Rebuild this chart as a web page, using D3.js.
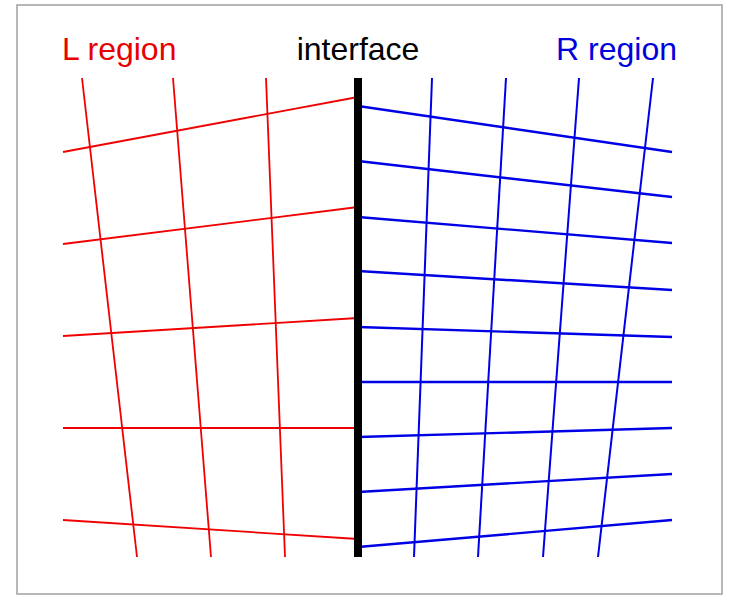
<!DOCTYPE html>
<html>
<head>
<meta charset="utf-8">
<script src="https://cdn.jsdelivr.net/npm/d3@7"></script>
<style>
  body { margin: 0; background: #fff; }
  svg { display: block; }
</style>
</head>
<body>
<svg id="chart"></svg>
<script>
// grid coordinates: x measured from the interface, y measured up from the bottom
var interfaceY = [0, 479];

// L region (red) - "vertical" lines: x at top and x at bottom
var leftVertTop = [-276, -185, -92];
var leftVertBottom = [-221, -147, -73];
// L region - "horizontal" lines: y at far left and y at the interface
var leftHorizLeft = [405, 313, 221, 129, 37];
var leftHorizRight = [460, 350, 239, 129, 18];
var leftEdgeX = -295;

// R region (blue)
var rightVertTop = [74, 148, 221, 295];
var rightVertBottom = [56, 120, 185, 240];
var rightHorizLeft = [451, 396, 340, 286, 230, 175, 120, 65, 10];
var rightHorizRight = [405, 360, 314, 267, 220, 175, 129, 83, 37];
var rightEdgeX = 314;

var labels = ["L region", "interface", "R region"];

var W = 734, H = 607;
var svg = d3.select("#chart").attr("width", W).attr("height", H);

var x = d3.scaleLinear().domain([-358, 376]).range([0, 734]);
var y = d3.scaleLinear().domain([0, 479]).range([557, 78]);

// frame
svg.append("rect")
  .attr("x", 17).attr("y", 5)
  .attr("width", 705).attr("height", 589)
  .attr("fill", "#fff")
  .attr("stroke", "#a0a0a0")
  .attr("stroke-width", 1.5);

function segs(a1, a2, f) {
  return a1.map(function (d, i) { return f(d, a2[i]); });
}

var leftLines = segs(leftVertTop, leftVertBottom, function (t, b) {
  return [[t, interfaceY[1]], [b, interfaceY[0]]];
}).concat(segs(leftHorizLeft, leftHorizRight, function (l, r) {
  return [[leftEdgeX, l], [0, r]];
}));

var rightVert = segs(rightVertTop, rightVertBottom, function (t, b) {
  return [[t, interfaceY[1]], [b, interfaceY[0]]];
});
var rightHoriz = segs(rightHorizLeft, rightHorizRight, function (l, r) {
  return [[0, l], [rightEdgeX, r]];
});

var line = d3.line()
  .x(function (d) { return x(d[0]); })
  .y(function (d) { return y(d[1]); });

svg.append("g").selectAll("path")
  .data(leftLines)
  .enter().append("path")
  .attr("d", line)
  .attr("fill", "none")
  .attr("stroke", "#f00000")
  .attr("stroke-width", 1.8);

svg.append("g").selectAll("path")
  .data(rightVert)
  .enter().append("path")
  .attr("d", line)
  .attr("fill", "none")
  .attr("stroke", "#0000e6")
  .attr("stroke-width", 2);

svg.append("g").selectAll("path")
  .data(rightHoriz)
  .enter().append("path")
  .attr("d", line)
  .attr("fill", "none")
  .attr("stroke", "#0000e6")
  .attr("stroke-width", 2.4);

// the interface
svg.append("path")
  .attr("d", line([[0, interfaceY[0]], [0, interfaceY[1]]]))
  .attr("stroke", "#000")
  .attr("stroke-width", 8);

// titles
var font = "'Liberation Sans', Arial, sans-serif";
svg.append("text")
  .attr("x", x(leftEdgeX) - 1).attr("y", 60)
  .attr("fill", "#e80000")
  .attr("font-family", font).attr("font-size", 32)
  .text(labels[0]);
svg.append("text")
  .attr("x", x(0)).attr("y", 60)
  .attr("text-anchor", "middle")
  .attr("fill", "#000")
  .attr("font-family", font).attr("font-size", 32)
  .text(labels[1]);
svg.append("text")
  .attr("x", x(rightEdgeX) + 5).attr("y", 60)
  .attr("text-anchor", "end")
  .attr("fill", "#0000dd")
  .attr("font-family", font).attr("font-size", 32)
  .text(labels[2]);
</script>
</body>
</html>
